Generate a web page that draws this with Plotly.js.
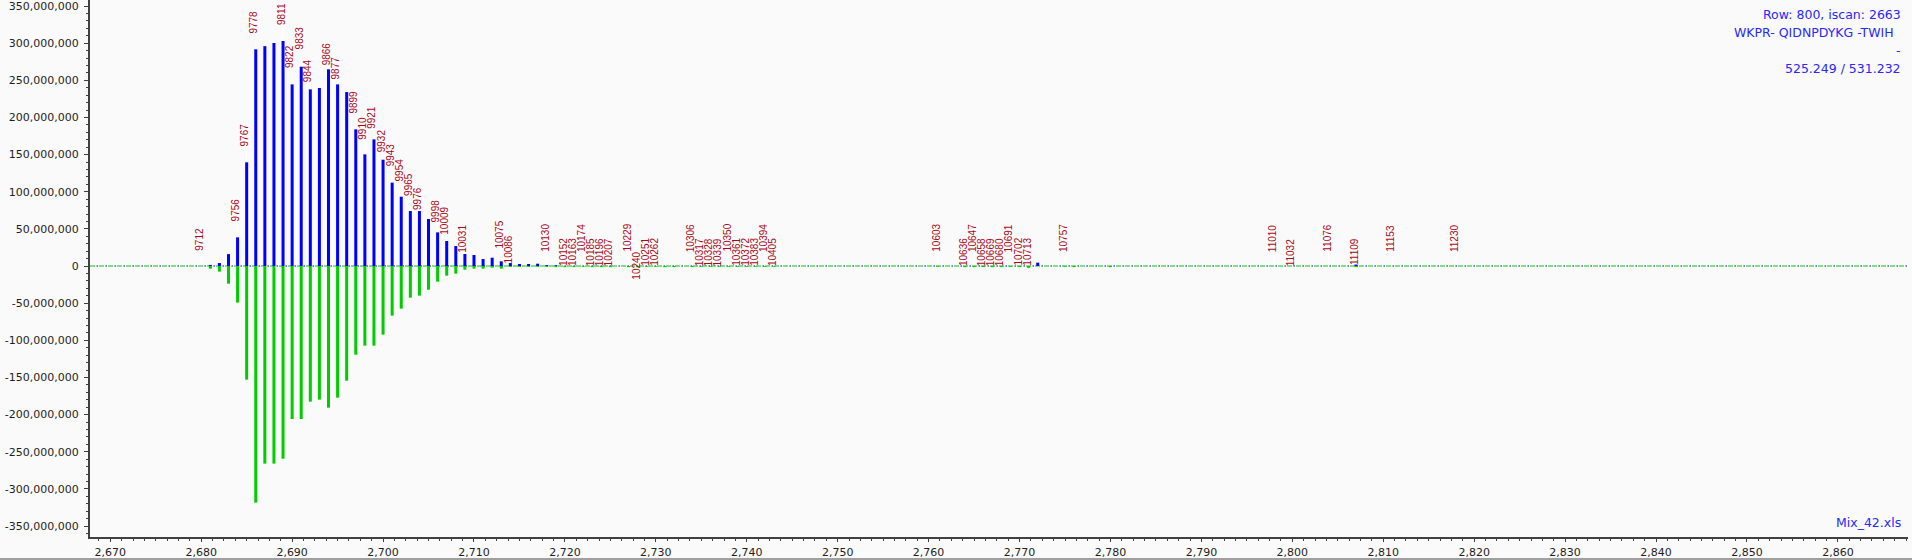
<!DOCTYPE html>
<html>
<head>
<meta charset="utf-8">
<script src="https://cdn.plot.ly/plotly-3.0.1.min.js"></script>
<style>
html,body{margin:0;padding:0;background:#fafafa;}
#chart{width:1912px;height:560px;}
</style>
</head>
<body>
<div id="chart"></div>
<script>
// ---------- data ----------
const mz = [2680,2681,2682,2683,2684,2685,2686,2687,2688,2689,
            2690,2691,2692,2693,2694,2695,2696,2697,2698,2699,
            2700,2701,2702,2703,2704,2705,2706,2707,2708,2709,
            2710,2711,2712,2713,2714,2715,2716,2717,2718,2719,
            2720,2721,2722,2723,2724,2725,2727,2728,2729,2730,
            2731,2732,2734,2735,2736,2737,2738,2739,2740,2741,
            2742,2743,2761,2764,2765,2766,2767,2768,2769,2770,
            2771,2772,2775,2776,2780,2798,2800,2804,2807,2811,2818];

// observed intensity (millions)
const observedM = [0,1.5,4,16,38.6,139.6,291.7,296,300.2,302.9,
                   244.5,268.3,237.8,239.6,264.8,244.5,234.2,184,150.3,170.5,
                   143.1,112.2,93.3,74,74,63.3,45.3,33.7,26.9,16.2,
                   14.8,9.4,11.2,6.3,4,2.7,2.7,3.1,1.2,1,
                   0,0,0,0,0,0,0,0,0,0,
                   0,0,0,0,0,0,0,0,0,0,
                   0,0,0,0,0,0,0,0,0,0,
                   0,4.5,0,0,0,0,0,0,2,0,0];

// reference intensity (millions, drawn downward)
const referenceM = [0,-3.6,-7.6,-23.8,-49.3,-153,-318.6,-266,-266,-259.4,
                    -206,-206,-182.6,-179.9,-190.7,-177.2,-154.4,-119.4,-107.2,-107.2,
                    -92.4,-66.8,-57.4,-42.6,-39.9,-31.9,-21.1,-13,-10.3,-4.9,
                    -3.6,-3.6,-2.2,-3.6,-1.2,-1,-1,-1,-1,-1.5,
                    -1.5,-1.5,-1,-1.5,-1.5,-1.5,-1.5,-1.5,-1,-1,
                    -1.5,-1.5,-1.5,-1,-1,-1,-1,-1,-1,-1,
                    -1,-1,-1,-1.5,-1.5,-1.5,-1.5,-1.5,-1,-1.5,
                    -2.5,0,-1,-1.5,-1.5,0,0,0,-1.5,0,0];

const peakLabels = ['9712','','','','9756','9767','9778','','','9811',
                    '9822','9833','9844','','9866','9877','','9899','9910','9921',
                    '9932','9943','9954','9965','9976','','9998','10009','','10031',
                    '','','','10075','10086','','','','10130','',
                    '10152','10163','10174','10185','10196','10207','10229','10240','10251','10262',
                    '','','10306','10317','10328','10339','10350','10361','10372','10383',
                    '10394','10405','10603','10636','10647','10658','10669','10680','10691','10702',
                    '10713','','10757','','','11010','11032','11076','11109','11153','11230'];

const xTickVals = [2670,2680,2690,2700,2710,2720,2730,2740,2750,2760,2770,2780,2790,2800,2810,2820,2830,2840,2850,2860];
const xTickText = ['2,670','2,680','2,690','2,700','2,710','2,720','2,730','2,740','2,750','2,760','2,770','2,780','2,790','2,800','2,810','2,820','2,830','2,840','2,850','2,860'];
const yTickValsM = [-350,-300,-250,-200,-150,-100,-50,0,50,100,150,200,250,300,350];
const yTickText = ['-350,000,000','-300,000,000','-250,000,000','-200,000,000','-150,000,000','-100,000,000','-50,000,000','0',
                   '50,000,000','100,000,000','150,000,000','200,000,000','250,000,000','300,000,000','350,000,000'];

const infoLines = ['Row: 800, iscan: 2663','WKPR- QIDNPDYKG -TWIH','-','525.249 / 531.232'];
const fileName = 'Mix_42.xls';

// ---------- style / layout ----------
const M = 1e6;
const BLUE = '#0000ff', GREEN = '#00cc00', LABEL = '#a80a1c', INFO = '#2828ff', AXIS = '#404040';
const defaultLift = 15;
const labelLift = {
  '9712':15,'9756':16,'9767':16,'9778':16,'9811':16,'9822':16,'9833':17,'9844':7,'9866':4,'9877':5,
  '9899':16,'9910':15,'9921':11,'9932':7,'9943':16,'9954':15,'9965':15,'9976':1,'9998':10,'10009':6,
  '10031':1,'10075':13,'10086':0,'10130':13,
  '10152':0,'10163':0,'10185':0,'10196':0,'10207':0,'10251':0,'10262':0,'10317':0,'10328':0,'10339':0,
  '10361':0,'10372':0,'10383':0,'10405':0,'10636':0,'10658':0,'10669':0,'10680':0,'10702':0,'10713':0,
  '11032':0,'11109':0,
  '10174':14,'10229':14,'10306':14,'10350':14,'10394':14,'10603':14,'10647':14,'10691':14,'10757':14,
  '11010':14,'11076':14,'11153':14,'11230':14,
  '10240':-14
};
const infoYShift = [-14,-32,-50,-68];
const infoXShift = [-6,-13,-6,-6];

const traces = [
  {type:'bar', x:mz, y:referenceM.map(v=>v*M), width:0.33, marker:{color:GREEN, line:{width:0}}, hoverinfo:'skip'},
  {type:'bar', x:mz, y:observedM.map(v=>v*M), width:0.33, marker:{color:BLUE, line:{width:0}}, hoverinfo:'skip'}
];

const shapes = [
  {type:'line', xref:'paper', yref:'y', x0:0, x1:1, y0:0, y1:0, layer:'below', line:{color:GREEN, width:1.2, dash:'5px,4px'}},
  {type:'line', xref:'paper', yref:'y', x0:0, x1:1, y0:0, y1:0, layer:'below', line:{color:BLUE, width:1.2, dash:'0px,6.5px,1.5px,1px'}},
  {type:'line', xref:'paper', yref:'paper', x0:-0.06, x1:1.01, ysizemode:'pixel', yanchor:0, y0:-22, y1:-22, line:{color:'#a0a0a0', width:2}}
];
const annotations = [];
peakLabels.forEach((lab, i) => {
  if (!lab) return;
  const top = Math.max(observedM[i], 0) * M;
  const lift = (lab in labelLift) ? labelLift[lab] : defaultLift;
  annotations.push({
    x: mz[i], y: top, xref:'x', yref:'y', text: lab, textangle: -90, showarrow:false,
    xanchor:'center', yanchor:'bottom', yshift: lift, xshift: -2, borderpad:0, borderwidth:0,
    font:{family:'Liberation Sans, Arial, sans-serif', size:10, color:LABEL}
  });
  if (lift >= 3) {
    shapes.push({type:'line', xref:'x', yref:'y', x0:mz[i], x1:mz[i], ysizemode:'pixel', yanchor: top,
                 y0:1, y1:lift, layer:'below', line:{color:'#ffffff', width:1}});
  }
});
infoLines.forEach((t, k) => {
  annotations.push({xref:'paper', yref:'paper', x:1, y:1, xanchor:'right', yanchor:'middle',
    xshift: infoXShift[k], yshift: infoYShift[k], text:t, showarrow:false, borderpad:0,
    font:{family:'DejaVu Sans, sans-serif', size:12.5, color:INFO}});
});
annotations.push({xref:'paper', yref:'paper', x:1, y:0, xanchor:'right', yanchor:'middle',
  xshift:-6, yshift:15, text:fileName, showarrow:false, borderpad:0,
  font:{family:'DejaVu Sans, sans-serif', size:12.5, color:INFO}});

const layout = {
  width:1912, height:560,
  margin:{l:90, r:4, t:0, b:23, pad:0},
  paper_bgcolor:'#fafafa', plot_bgcolor:'#fafafa',
  barmode:'overlay', showlegend:false,
  xaxis:{
    range:[2667.77, 2867.71], tickmode:'array', tickvals:xTickVals, ticktext:xTickText,
    ticks:'outside', ticklen:3, tickwidth:1, tickcolor:AXIS,
    minor:{tickmode:'linear', tick0:2670, dtick:1.25, ticks:'outside', ticklen:2, tickwidth:1, tickcolor:AXIS, showgrid:false},
    showgrid:false, zeroline:false, showline:true, linecolor:AXIS, linewidth:2,
    tickfont:{family:'DejaVu Sans, sans-serif', size:11, color:'#1e1e1e'}, ticklabelstandoff:1,
    ticklabeloverflow:'allow'
  },
  yaxis:{
    range:[-364.8e6, 358.1e6], tickmode:'array', tickvals:yTickValsM.map(v=>v*M), ticktext:yTickText,
    ticks:'outside', ticklen:4, tickwidth:1, tickcolor:AXIS,
    minor:{tickmode:'linear', tick0:0, dtick:10e6, ticks:'outside', ticklen:2, tickwidth:1, tickcolor:AXIS, showgrid:false},
    showgrid:false, zeroline:false, showline:true, linecolor:AXIS, linewidth:2,
    tickfont:{family:'DejaVu Sans, sans-serif', size:11, color:'#1e1e1e'}, ticklabelstandoff:3,
    ticklabeloverflow:'allow'
  },
  shapes:shapes, annotations:annotations
};

Plotly.newPlot('chart', traces, layout, {staticPlot:true, displayModeBar:false});
</script>
</body>
</html>
